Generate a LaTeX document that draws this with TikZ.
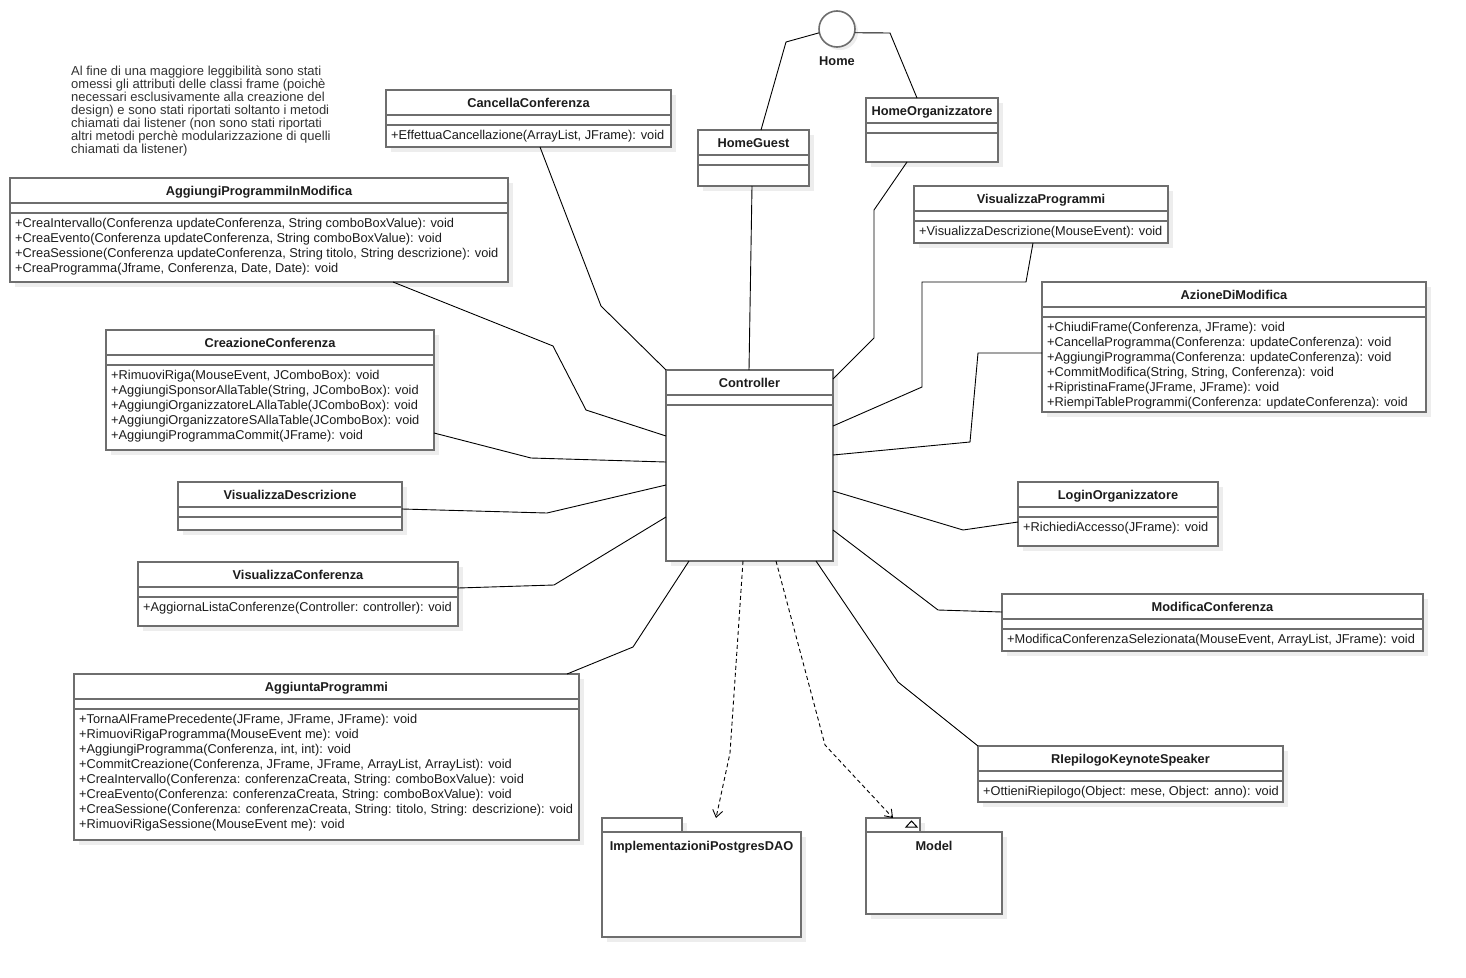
\documentclass[tikz,border=0pt]{standalone}
\usepackage{fontspec}
\setmainfont{Liberation Sans}
\usetikzlibrary{arrows.meta,shadows,calc}

\definecolor{boxgray}{HTML}{6E6E6E}
\definecolor{shadowgray}{HTML}{EDEDED}
\definecolor{txt}{HTML}{1C1C1C}
\definecolor{notetxt}{HTML}{333333}

\tikzset{
  umlbox/.style={draw=boxgray, line width=1.6pt, fill=white, inner sep=0pt, outer sep=0pt,
    anchor=north west,
    drop shadow={shadow xshift=5pt, shadow yshift=-5pt, fill=shadowgray, opacity=1}},
  sepline/.style={draw=boxgray, line width=1.6pt},
  ttl/.style={font=\bfseries\fontsize{12.8}{15}\selectfont, text=txt, anchor=base, inner sep=0pt},
  mth/.style={font=\fontsize{12.8}{15}\selectfont, text=txt, anchor=north west, align=left, inner sep=0pt},
  notestyle/.style={font=\fontsize{13}{13}\selectfont, text=notetxt, anchor=north west, align=left, inner sep=0pt},
  link/.style={draw=black, line width=0.9pt},
  dep/.style={link, dash pattern=on 4pt off 3pt, -{Straight Barb[length=7pt,width=10pt]}},
}

% class box: id, x, y (top), width, height, title, methods
\newcommand{\umlclass}[7]{%
  \node[umlbox, minimum width=#4pt, minimum height=#5pt] (#1) at (#2,#3) {};
  \draw[sepline] ([yshift=-25pt]#1.north west) -- ([yshift=-25pt]#1.north east);
  \draw[sepline] ([yshift=-35pt]#1.north west) -- ([yshift=-35pt]#1.north east);
  \node[ttl] (#1-t) at ([yshift=-17pt]#1.north) {#6};
  \node[mth] (#1-m) at ([shift={(5pt,-40.5pt)}]#1.north west) {#7};
}

\begin{document}
\begin{tikzpicture}[x=1pt, y=-1pt]
\useasboundingbox (0,0) rectangle (1466,977);
\fill[white] (0,0) rectangle (1466,977);

% explanatory note
\node[notestyle] (note) at (71,66) {Al fine di una maggiore leggibilità sono stati\\
omessi gli attributi delle classi frame (poichè\\
necessari esclusivamente alla creazione del\\
design) e sono stati riportati soltanto i metodi\\
chiamati dai listener (non sono stati riportati\\
altri metodi perchè modularizzazione di quelli\\
chiamati da listener)};

% interface Home
\node[circle, draw=boxgray, line width=1.6pt, fill=white, minimum size=36pt, inner sep=0pt, outer sep=0pt,
  drop shadow={shadow xshift=3pt, shadow yshift=-3pt, fill=shadowgray, opacity=1}] (home) at (837,29) {};
\node[ttl] (home-t) at (837,65) {Home};

% classes
\umlclass{cancella}{386}{90}{285}{57}{CancellaConferenza}{+EffettuaCancellazione(ArrayList, JFrame): void}
\umlclass{guest}{698}{130}{111}{56}{HomeGuest}{}
\umlclass{horg}{866}{98}{132}{64}{HomeOrganizzatore}{}
\umlclass{aim}{10}{178}{498}{104}{AggiungiProgrammiInModifica}{+CreaIntervallo(Conferenza updateConferenza, String comboBoxValue): void\\
+CreaEvento(Conferenza updateConferenza, String comboBoxValue): void\\
+CreaSessione(Conferenza updateConferenza, String titolo, String descrizione): void\\
+CreaProgramma(Jframe, Conferenza, Date, Date): void}
\umlclass{vprog}{914}{186}{254}{57}{VisualizzaProgrammi}{+VisualizzaDescrizione(MouseEvent): void}
\umlclass{azione}{1042}{282}{384}{130}{AzioneDiModifica}{+ChiudiFrame(Conferenza, JFrame): void\\
+CancellaProgramma(Conferenza: updateConferenza): void\\
+AggiungiProgramma(Conferenza: updateConferenza): void\\
+CommitModifica(String, String, Conferenza): void\\
+RipristinaFrame(JFrame, JFrame): void\\
+RiempiTableProgrammi(Conferenza: updateConferenza): void}
\umlclass{crea}{106}{330}{328}{120}{CreazioneConferenza}{+RimuoviRiga(MouseEvent, JComboBox): void\\
+AggiungiSponsorAllaTable(String, JComboBox): void\\
+AggiungiOrganizzatoreLAllaTable(JComboBox): void\\
+AggiungiOrganizzatoreSAllaTable(JComboBox): void\\
+AggiungiProgrammaCommit(JFrame): void}
\umlclass{ctrl}{666}{370}{167}{191}{Controller}{}
\umlclass{vdesc}{178}{482}{224}{48}{VisualizzaDescrizione}{}
\umlclass{login}{1018}{482}{200}{64}{LoginOrganizzatore}{+RichiediAccesso(JFrame): void}
\umlclass{vconf}{138}{562}{320}{64}{VisualizzaConferenza}{+AggiornaListaConferenze(Controller: controller): void}
\umlclass{modconf}{1002}{594}{421}{57}{ModificaConferenza}{+ModificaConferenzaSelezionata(MouseEvent, ArrayList, JFrame): void}
\umlclass{aggiunta}{74}{674}{505}{166}{AggiuntaProgrammi}{+TornaAlFramePrecedente(JFrame, JFrame, JFrame): void\\
+RimuoviRigaProgramma(MouseEvent me): void\\
+AggiungiProgramma(Conferenza, int, int): void\\
+CommitCreazione(Conferenza, JFrame, JFrame, ArrayList, ArrayList): void\\
+CreaIntervallo(Conferenza: conferenzaCreata, String: comboBoxValue): void\\
+CreaEvento(Conferenza: conferenzaCreata, String: comboBoxValue): void\\
+CreaSessione(Conferenza: conferenzaCreata, String: titolo, String: descrizione): void\\
+RimuoviRigaSessione(MouseEvent me): void}
\umlclass{riep}{978}{746}{305}{56}{RIepilogoKeynoteSpeaker}{+OttieniRiepilogo(Object: mese, Object: anno): void}

% packages
\node[umlbox, minimum width=80pt, minimum height=14pt] (ipdtab) at (602,818) {};
\node[umlbox, minimum width=199pt, minimum height=105pt] (ipd) at (602,832) {};
\node[ttl] (ipd-t) at ([yshift=-18pt]ipd.north) {ImplementazioniPostgresDAO};
\node[umlbox, minimum width=54pt, minimum height=14pt] (modeltab) at (866,818) {};
\node[umlbox, minimum width=136pt, minimum height=82pt] (model) at (866,832) {};
\node[ttl] (model-t) at ([yshift=-18pt]model.north) {Model};
\draw[draw=black, line width=1pt, line join=miter]
  ([shift={(-14pt,-9pt)}]modeltab.north east) -- ([shift={(-3pt,-9pt)}]modeltab.north east)
  -- ([shift={(-8.5pt,-3pt)}]modeltab.north east) -- cycle;
\coordinate (ipdin) at (716,818);

% connectors to the Home interface
\draw[link] (home.192) -- (786,42) -- (guest.north -| 761,0);
\draw[link] (home.-12) -- (890,33) -- (horg.north -| 917,0);

% associations to the Controller
\draw[link] (cancella.south -| 540,0) -- (601,306) -- (ctrl.north west);
\draw[link] (aim.south -| 393,0) -- (553,346) -- (586,410) -- (ctrl.west |- 0,436);
\draw[link] (crea.east |- 0,433) -- (531,458) -- (ctrl.west |- 0,462);
\draw[link] (vdesc.east |- 0,509) -- (547,513) -- (ctrl.west |- 0,485);
\draw[link] (vconf.east |- 0,588) -- (554,585) -- (ctrl.west |- 0,517);
\draw[link] (aggiunta.north -| 567,0) -- (633,647) -- (ctrl.south -| 689,0);
\draw[link] (guest.south -| 752,0) -- (ctrl.north -| 749,0);
\draw[link] (horg.south -| 907,0) -- (874,210) -- (874,338) -- (ctrl.east |- 0,379);
\draw[link] (vprog.south -| 1033,0) -- (1026,282) -- (922,282) -- (922,387) -- (ctrl.east |- 0,426);
\draw[link] (azione.west |- 0,353) -- (978,353) -- (970,442) -- (ctrl.east |- 0,455);
\draw[link] (login.west |- 0,522) -- (963,530) -- (ctrl.east |- 0,491);
\draw[link] (modconf.west |- 0,612) -- (938,610) -- (ctrl.east |- 0,530);
\draw[link] (ctrl.south -| 816,0) -- (898,682) -- (riep.north west);

% dependencies on the packages
\draw[dep] (ctrl.south -| 743,0) -- (730,753) -- (ipdin);
\draw[dep] (ctrl.south -| 776,0) -- (825,745) -- (modeltab.north);
\end{tikzpicture}
\end{document}
